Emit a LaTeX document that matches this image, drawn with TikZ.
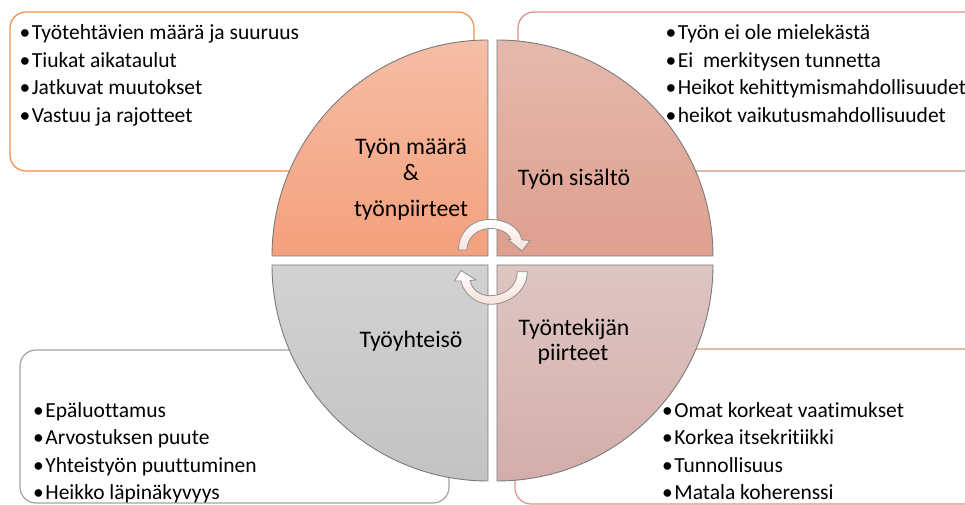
\documentclass[tikz,border=0pt]{standalone}
\usepackage{fontspec}
\setmainfont{Carlito}[Ligatures=NoCommon]
\definecolor{tltop}{HTML}{F5BEA6}
\definecolor{tlbot}{HTML}{F4A07C}
\definecolor{trtop}{HTML}{E4B9AD}
\definecolor{trbot}{HTML}{DE9F8E}
\definecolor{bltop}{HTML}{D2D2D2}
\definecolor{blbot}{HTML}{C3C3C3}
\definecolor{brtop}{HTML}{DEC6C3}
\definecolor{brbot}{HTML}{D3ADAA}
\definecolor{quadline}{HTML}{7A7A7A}
\definecolor{tlborder}{HTML}{F08D4C}
\definecolor{trborder}{HTML}{D48E80}
\definecolor{blborder}{HTML}{A3A3A3}
\definecolor{brborder}{HTML}{DC9388}
\definecolor{arrowline}{HTML}{909090}
\definecolor{arrowfill}{HTML}{F8E1D9}
\newcommand\itemtab[1]{\begin{tabular}[t]{@{}l@{}}#1\end{tabular}}
\newcommand\bl{•\hspace{1.5pt}}
\begin{document}
\begin{tikzpicture}[x=1pt,y=1pt,
  listbox/.style={rounded corners=16pt, line width=1.2pt, fill=white},
  quad/.style={draw=quadline, line width=0.9pt},
  qlabel/.style={anchor=base, inner sep=0pt, font=\fontsize{23.7}{27}\selectfont},
  itemlist/.style={anchor=base west, inner sep=0pt, font=\fontsize{21.5}{27.4}\selectfont},
  cyc/.style={draw=arrowline, line width=0.8pt, top color=white, bottom color=arrowfill}
]
\useasboundingbox (0,0) rectangle (965,505);
\clip (0,0) rectangle (965,505);
% list boxes
\draw[listbox, draw=tlborder] (10,334) rectangle (474,493);
\draw[listbox, draw=trborder] (518,334) rectangle (990,493);
\draw[listbox, draw=blborder] (20,2) rectangle (449,155);
\draw[listbox, draw=brborder] (515,1) rectangle (990,156);
% quadrants
\draw[quad, top color=tltop, bottom color=tlbot] (488,249) -- (272,249) arc (180:90:216) -- cycle;
\draw[quad, top color=trtop, bottom color=trbot] (497,249) -- (497,465) arc (90:0:216) -- cycle;
\draw[quad, top color=bltop, bottom color=blbot] (488,240) -- (272,240) arc (180:270:216) -- cycle;
\draw[quad, top color=brtop, bottom color=brbot] (497,240) -- (713,240) arc (0:-90:216) -- cycle;
% quadrant labels
\node[qlabel] (tl1) at (411,350) {Työn määrä};
\node[qlabel] (tl2) at (411,324) {\&};
\node[qlabel] (tl3) at (411,288) {työnpiirteet};
\node[qlabel] (tr1) at (574,319) {Työn sisältö};
\node[qlabel] (bl1) at (411,157) {Työyhteisö};
\node[qlabel] (br1) at (574,169) {Työntekijän};
\node[qlabel] (br2) at (573,144) {piirteet};
% lists
\node[itemlist] (tllist) at (19.5,465) {\itemtab{\bl Työtehtävien määrä ja suuruus\\ \bl Tiukat aikataulut\\ \bl Jatkuvat muutokset\\ \bl Vastuu ja rajotteet}};
\node[itemlist] (trlist) at (665.5,465) {\itemtab{\bl Työn ei ole mielekästä\\ \bl Ei\ \ merkitysen tunnetta\\ \bl Heikot kehittymismahdollisuudet\\ \bl heikot vaikutusmahdollisuudet}};
\node[itemlist] (bllist) at (33,87.5) {\itemtab{\bl Epäluottamus\\ \bl Arvostuksen puute\\ \bl Yhteistyön puuttuminen\\ \bl Heikko läpinäkyvyys}};
\node[itemlist] (brlist) at (662,87.5) {\itemtab{\bl Omat korkeat vaatimukset\\ \bl Korkea itsekritiikki\\ \bl Tunnollisuus\\ \bl Matala koherenssi}};
% cycle arrows
\draw[cyc] (458.5,255) .. controls (458.5,273) and (472,285.5) .. (490,285.5)
  .. controls (506,285.5) and (519,278) .. (522,265)
  -- (530,264.5) -- (522,254) -- (508,265.5) -- (511,265.4)
  .. controls (508,273) and (499,276.5) .. (490,276.5)
  .. controls (477,276.5) and (467,267) .. (467,255) -- cycle;
\draw[cyc] (527.3,233.3) .. controls (527.3,215) and (510,200.7) .. (490,200.7)
  .. controls (476,200.7) and (463,212) .. (461,224)
  -- (454.5,224) -- (461,234.5) -- (476,225) -- (470,224.5)
  .. controls (472,215) and (480,209.3) .. (490,209.3)
  .. controls (505,209.3) and (517.3,219) .. (517.3,233.3) -- cycle;
\end{tikzpicture}
\end{document}
